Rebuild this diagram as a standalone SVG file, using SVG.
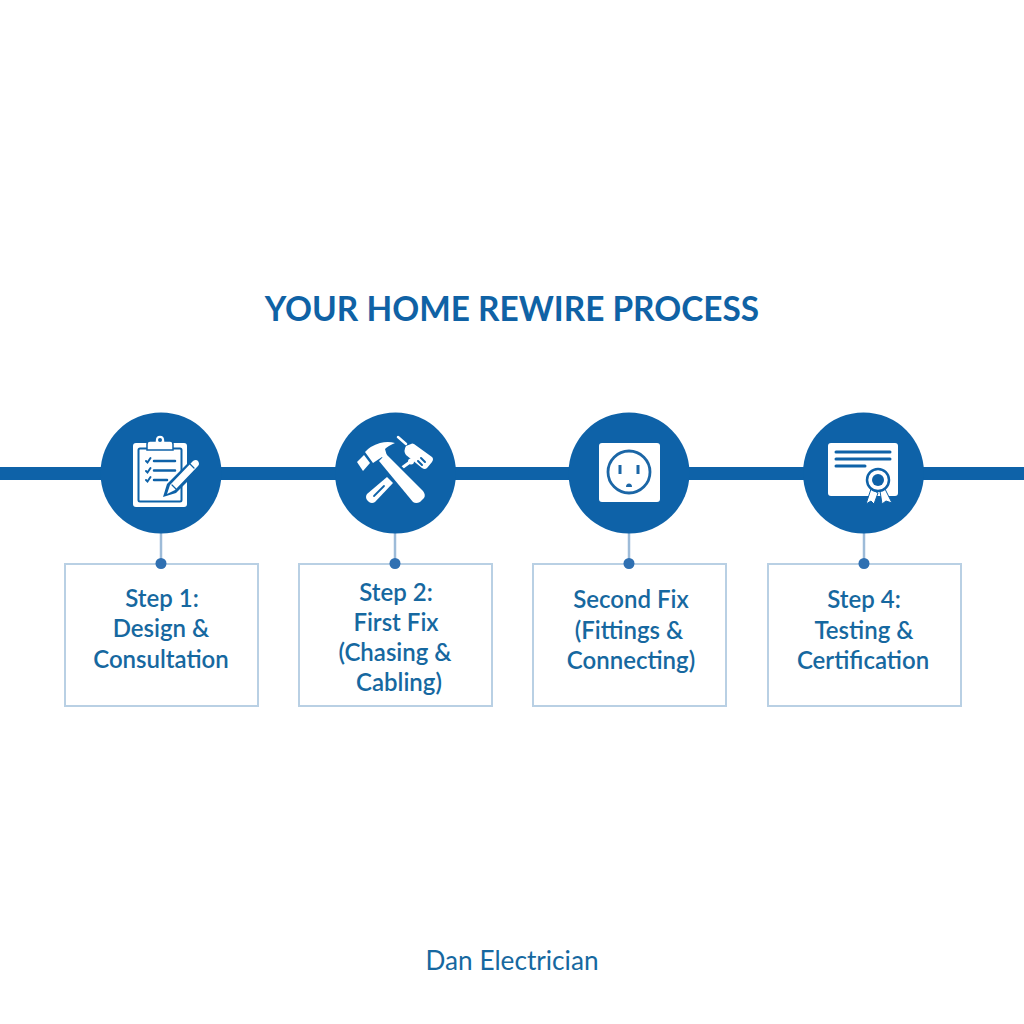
<svg xmlns="http://www.w3.org/2000/svg" width="1024" height="1024" viewBox="0 0 1024 1024">
<style>
text{font-family:Lato,"Liberation Sans",sans-serif;fill:#1668a0;text-anchor:middle}
.t{font-size:24px;font-weight:600}
.b{fill:#fff;stroke:#b9d0e4;stroke-width:2}
.c{fill:#0e62a8}
.w{fill:#fff}
.ws{fill:none;stroke:#fff;stroke-linecap:round;stroke-linejoin:round}
.bs{fill:none;stroke:#0e62a8;stroke-linecap:round}
.d{fill:#2f70b2}
.l{stroke:#9dbbd8;stroke-width:2.5}
</style>
<rect width="1024" height="1024" fill="#fff"/>
<text id="title" x="512" y="321" style="font-size:33.4px;font-weight:700;fill:#0f62a5">YOUR HOME REWIRE PROCESS</text>
<g id="connectors">
<rect x="0" y="467" width="1024" height="13" fill="#0e62a8"/>
<line class="l" x1="161" y1="530" x2="161" y2="564"/>
<line class="l" x1="395" y1="530" x2="395" y2="564"/>
<line class="l" x1="629" y1="530" x2="629" y2="564"/>
<line class="l" x1="864" y1="530" x2="864" y2="564"/>
</g>
<g id="step1">
<circle class="c" cx="161" cy="473" r="60.5"/>
<rect class="w" x="133" y="443" width="54" height="64" rx="3"/>
<rect x="138.500" y="448.500" width="43" height="53" rx="1.500" fill="none" stroke="#0e62a8" stroke-width="2"/>
<path class="w" stroke="#0e62a8" stroke-width="1.500" d="M147 450v-6q0-3 3-3h5q0-6 5-6t5 6h5q3 0 3 3v6z"/>
<circle cx="160" cy="440" r="2" fill="#0e62a8"/>
<path class="bs" stroke-width="2" d="M146 461l1.500 1.500 3-4.500M146 471l1.500 1.500 3-4.500M146 480l1.500 1.500 3-4.500"/>
<path class="bs" stroke-width="2.500" d="M154 461h21M154 470.500h21M154 480h13"/>
<path fill="#0e62a8" d="M163 497l4-13 26-26 9 9-26 26z"/>
<path fill="#fff" d="M167 494l3-9 23-24q3-2 5 0 2 3 0 5l-23 24z"/>
<path class="bs" stroke-width="1.200" d="M190 464l4 4M172 485l4 4"/>
</g>
<g id="step2">
<circle class="c" cx="395.500" cy="473" r="60.500"/>
<path fill="#fff" d="M387 477l6 6-18 19q-3 2-6 0l-2-2q-2-3 0-6z"/>
<path d="M374 496l10-10" class="bs" stroke-width="1.800"/>
<path class="ws" stroke-width="3" d="M399 470l11-8"/>
<circle class="w" cx="411" cy="461.500" r="3"/>
<path fill="#0e62a8" d="M376 461l10-10 39 38q3 4 1 9l-4 5q-5 3-9 1z"/>
<path class="w" d="M379 461l7-7 37 37q3 4 1 7l-4 4q-4 2-7 0z"/>
<path class="w" d="M357 462l7-7 6 8-7 8z"/>
<path class="w" d="M365 452l8 11 9-6 3 3 2-4-2-7q3-3 10-6-7-2-15 0-10 3-15 9z"/>
<path class="w" d="M406 446l5-2q1-1 3 0l18 13q2 2 0 5l-5 6q-2 2-5 0l-16-13q-3-4 0-9z"/>
<path class="ws" stroke-width="2.500" d="M398 437l8 7"/>
<path class="bs" stroke-width="2" d="M421 458l4 4M418 461l4 4"/>
</g>
<g id="step3">
<circle class="c" cx="629" cy="473" r="60.500"/>
<rect class="w" x="599" y="443" width="61" height="59" rx="3"/>
<circle cx="629" cy="472" r="21" fill="none" stroke="#1b66a6" stroke-width="2.800"/>
<rect x="618.500" y="465" width="3" height="9" fill="#1b66a6"/>
<rect x="636.500" y="465" width="3" height="9" fill="#1b66a6"/>
<path d="M626 487a3 3.500 0 0 1 6 0z" fill="#1b66a6"/>
</g>
<g id="step4">
<circle class="c" cx="863.500" cy="473" r="60.500"/>
<path class="w" d="M831 443h64q3 0 3 3v47q0 3-3 3h-64q-3 0-3-3v-47q0-3 3-3z"/>
<path class="bs" stroke-width="3" d="M836 452h54M836 459h54M836 466h29" stroke-linecap="butt"/>
<circle cx="878" cy="480" r="14" fill="#fff"/>
<path class="w" stroke="#0e62a8" stroke-width="1" d="M871 489l-5 15 5-3 3 3 4-11zM880 491l2 13 4-3 6 2-7-14z"/>
<circle cx="878" cy="480" r="11" fill="#fff" stroke="#0e62a8" stroke-width="2.500"/>
<circle cx="878" cy="480" r="6" fill="#0e62a8"/>
</g>
<g id="box1">
<rect class="b" x="65" y="564" width="193" height="142"/>
<circle class="d" cx="161" cy="563.500" r="5.500"/>
<text class="t" x="162" y="606.500">Step 1:</text>
<text class="t" x="161" y="636.500">Design &amp;</text>
<text class="t" x="161" y="667.500">Consultation</text>
</g>
<g id="box2">
<rect class="b" x="299" y="564" width="193" height="142"/>
<circle class="d" cx="395" cy="563.500" r="5.500"/>
<text class="t" x="396" y="600.500">Step 2:</text>
<text class="t" x="396" y="630.500">First Fix</text>
<text class="t" x="395" y="660.500">(Chasing &amp;</text>
<text class="t" x="399" y="690.500">Cabling)</text>
</g>
<g id="box3">
<rect class="b" x="533" y="564" width="193" height="142"/>
<circle class="d" cx="629" cy="563.500" r="5.500"/>
<text class="t" x="631" y="607.500">Second Fix</text>
<text class="t" x="629" y="638.500">(Fittings &amp;</text>
<text class="t" x="631" y="668.500">Connecting)</text>
</g>
<g id="box4">
<rect class="b" x="768" y="564" width="193" height="142"/>
<circle class="d" cx="864" cy="563.500" r="5.500"/>
<text class="t" x="864" y="607.500">Step 4:</text>
<text class="t" x="864" y="638.500">Testing &amp;</text>
<text class="t" x="863" y="668.500">Certification</text>
</g>
<text id="footer" x="512" y="969.500" style="font-size:26.200px;font-weight:400">Dan Electrician</text>
</svg>
